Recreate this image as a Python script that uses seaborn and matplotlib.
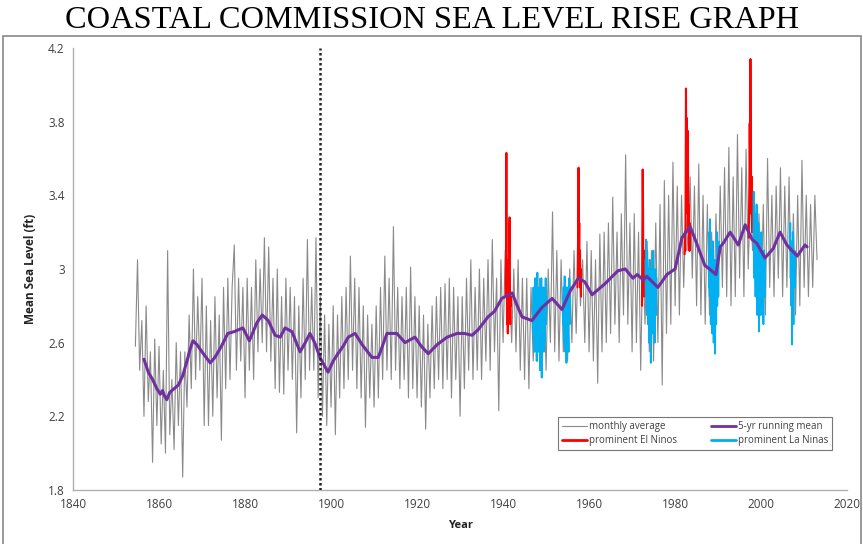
import numpy as np
import pandas as pd
import matplotlib
matplotlib.use('Agg')
import matplotlib.pyplot as plt
from matplotlib.lines import Line2D
from matplotlib.patches import Rectangle
from matplotlib.ticker import FuncFormatter, MultipleLocator, FixedLocator
import seaborn as sns

# monthly average, every half year from 1854.5
gray_start = 1854.5
gray_step = 0.5
gray_vals = [
    2.58, 3.05, 2.45, 2.72, 2.20, 2.80, 2.28, 2.55, 1.95, 2.62, 2.15,
    2.58, 2.05, 2.45, 2.00, 3.10, 2.10, 2.40, 2.02, 2.60, 2.15, 2.55, 1.87, 2.55, 2.25, 2.75, 2.35, 3.00, 2.40, 2.85, 2.45,
    2.95, 2.15, 2.80, 2.15, 2.72, 2.20, 2.85, 2.30, 2.75, 2.07, 2.90, 2.35, 2.95, 2.40, 2.90, 3.13, 2.45, 2.95, 2.50, 2.90,
    2.30, 2.95, 2.45, 2.90, 2.40, 3.05, 2.55, 3.00, 2.60, 3.17, 2.55, 3.12, 2.50, 2.95, 2.35, 3.00, 2.33, 2.85, 2.32, 2.95,
    2.45, 2.90, 2.40, 2.85, 2.11, 2.80, 2.30, 2.95, 2.40, 3.16, 2.45, 2.90, 2.45, 3.17, 2.30, 2.85, 2.20, 2.75, 2.15, 2.70,
    2.25, 2.80, 2.10, 2.75, 2.30, 2.85, 2.35, 2.90, 2.40, 3.07, 2.45, 2.95, 2.35, 2.90, 2.30, 2.80, 2.14, 2.75, 2.30, 2.70,
    2.25, 2.80, 2.30, 2.90, 2.40, 3.07, 2.45, 2.95, 2.40, 3.23, 2.45, 2.90, 2.35, 2.85, 2.40, 2.90, 2.30, 3.01, 2.35, 2.85,
    2.30, 2.80, 2.25, 2.75, 2.13, 2.70, 2.30, 2.80, 2.35, 2.85, 2.40, 2.90, 2.35, 2.92, 2.40, 2.95, 2.30, 2.90, 2.40, 2.85,
    2.20, 2.85, 2.35, 2.95, 2.45, 3.05, 2.40, 2.90, 2.45, 3.00, 2.40, 2.95, 2.50, 3.05, 2.45, 3.16, 2.55, 2.95, 2.23, 3.05,
    2.60, 3.10, 2.75, 2.90, 2.60, 3.00, 2.55, 3.05, 2.45, 2.95, 2.40, 2.95, 2.35, 2.90, 2.50, 2.85, 2.55, 2.95, 2.50, 2.90,
    2.45, 3.00, 2.60, 3.31, 2.55, 3.10, 2.50, 3.05, 2.55, 2.95, 2.50, 3.00, 2.60, 3.10, 2.65, 3.15, 2.80, 3.05, 2.60, 3.15,
    2.55, 3.10, 2.50, 3.05, 2.38, 3.19, 2.55, 3.20, 2.60, 3.25, 2.65, 3.39, 2.70, 3.20, 2.60, 3.30, 2.75, 3.62, 2.70, 3.25,
    2.55, 3.30, 2.60, 3.20, 2.45, 3.10, 2.70, 3.15, 2.55, 3.10, 2.50, 3.25, 2.60, 3.35, 2.37, 3.48, 2.65, 3.40, 2.70, 3.58,
    2.80, 3.45, 2.75, 3.40, 2.90, 3.30, 3.10, 3.50, 2.95, 3.45, 2.80, 3.57, 2.75, 3.40, 2.70, 3.35, 2.75, 3.20, 2.70, 3.30,
    2.90, 3.45, 2.90, 3.55, 2.85, 3.66, 2.80, 3.50, 2.85, 3.73, 2.95, 3.55, 2.85, 3.65, 3.00, 3.40, 3.10, 3.35, 2.85, 3.30,
    2.80, 3.35, 2.75, 3.60, 2.90, 3.40, 2.85, 3.45, 2.95, 3.55, 2.85, 3.45, 2.90, 3.50, 2.80, 3.30, 2.75, 3.40, 2.80, 3.59,
    2.90, 3.40, 2.85, 3.35, 2.90, 3.40, 3.05,
]

# 5-yr running mean (year, value)
mean_years = [
    1856.5, 1857.5, 1858.5, 1859.5, 1860.3, 1860.8, 1861.3, 1861.8, 1862.5, 1863.5,
    1864.5, 1865.5, 1866.5, 1867.3, 1867.9, 1868.8, 1870.0, 1871.9, 1873.0, 1874.5,
    1876.0, 1877.5, 1879.5, 1881.0, 1882.8, 1884.0, 1885.4, 1887.0, 1888.2, 1889.3,
    1890.9, 1892.8, 1894.0, 1895.1, 1896.2, 1897.4, 1899.3, 1900.5, 1901.6, 1902.8,
    1904.0, 1905.6, 1907.2, 1909.5, 1911.0, 1913.0, 1915.3, 1917.2, 1919.5, 1921.0,
    1922.6, 1924.7, 1927.0, 1929.3, 1931.0, 1932.8, 1934.2, 1936.5, 1938.0, 1939.7,
    1942.1, 1943.3, 1944.4, 1946.7, 1949.0, 1951.4, 1953.7, 1955.6, 1957.5, 1959.0,
    1960.7, 1963.7, 1966.7, 1968.4, 1970.2, 1971.2, 1972.6, 1973.4, 1976.0, 1978.1,
    1980.0, 1981.6, 1983.5, 1985.0, 1986.9, 1988.5, 1989.5, 1990.5, 1991.2, 1992.8,
    1994.7, 1996.3, 1997.9, 1999.0, 2000.9, 2002.8, 2004.4, 2006.0, 2008.4, 2010.2,
    2010.7,
]
mean_vals = [
    2.51, 2.44, 2.40, 2.35, 2.32, 2.34, 2.31, 2.29, 2.33, 2.35,
    2.37, 2.42, 2.50, 2.57, 2.61, 2.59, 2.55, 2.49, 2.52, 2.58,
    2.65, 2.66, 2.68, 2.61, 2.71, 2.75, 2.72, 2.64, 2.63, 2.68,
    2.66, 2.55, 2.60, 2.65, 2.60, 2.52, 2.44, 2.50, 2.54, 2.58,
    2.63, 2.65, 2.59, 2.52, 2.52, 2.65, 2.65, 2.60, 2.63, 2.58,
    2.54, 2.59, 2.63, 2.65, 2.65, 2.64, 2.67, 2.74, 2.77, 2.84,
    2.87, 2.80, 2.74, 2.72, 2.79, 2.84, 2.78, 2.88, 2.95, 2.93,
    2.86, 2.92, 2.99, 3.00, 2.95, 2.97, 2.94, 2.96, 2.90, 2.97,
    3.00, 3.17, 3.23, 3.14, 3.02, 2.99, 2.97, 3.12, 3.14, 3.20,
    3.13, 3.24, 3.16, 3.14, 3.06, 3.11, 3.20, 3.13, 3.07, 3.13,
    3.12,
]

# prominent El Ninos / La Ninas: start year and monthly values
elnino_starts = [1940.6, 1957.3, 1972.3, 1982.2, 1997.1]
elnino_vals = [
    [2.85, 3.10, 3.63, 3.00, 2.70, 2.95, 2.65, 3.05, 2.80, 2.95, 3.15, 3.28, 2.90, 2.70, 2.85, 2.80],
    [2.90, 3.05, 3.20, 3.55, 3.10, 3.25, 2.95, 3.10, 2.90, 3.00, 2.85],
    [2.80, 3.20, 3.54, 3.30, 2.90, 3.10, 2.85],
    [3.08, 3.20, 3.10, 3.40, 3.98, 3.50, 3.82, 3.60, 3.30, 3.75, 3.45, 3.20, 3.35, 3.10, 3.25, 3.10],
    [3.17, 3.30, 3.45, 3.79, 3.55, 4.14, 3.70, 3.45, 3.30, 3.50, 3.20, 3.25],
]
lanina_starts = [1946.9, 1953.9, 1973.1, 1987.8, 1998.2, 2006.7]
lanina_vals = [
    [2.80, 2.65, 2.90, 2.60, 2.75, 2.55, 2.85, 2.95, 2.70, 2.60, 2.80, 2.50, 2.75, 2.98, 2.65, 2.55, 2.85, 2.70, 2.60, 2.90,
     2.45, 2.70, 2.80, 2.55, 2.95, 2.41, 2.65, 2.85, 2.60, 2.75, 2.90, 2.55, 2.70, 2.85, 2.60, 2.80, 2.95, 2.70, 2.80, 2.85],
    [2.85, 2.70, 2.90, 2.60, 2.80, 2.96, 2.65, 2.55, 2.85, 2.70, 2.49, 2.75, 2.90, 2.60, 2.80, 2.65, 2.55, 2.85, 2.95, 2.70,
     2.80, 2.90],
    [3.05, 2.85, 3.16, 2.90, 2.75, 3.10, 2.95, 2.70, 3.00, 2.80, 2.60, 2.95, 3.05, 2.75, 2.85, 2.49, 2.80, 3.00, 2.70, 2.90,
     2.65, 2.85, 3.10, 2.80, 2.95, 2.70, 2.60, 2.90, 3.00, 2.85, 2.75, 2.95],
    [3.05, 2.90, 3.20, 2.85, 3.27, 2.95, 2.70, 3.10, 2.80, 3.00, 2.65, 2.90, 3.15, 2.85, 2.60, 2.95, 2.75, 3.05, 2.54, 2.85,
     3.00, 2.70, 2.90, 3.20, 2.80, 2.95, 3.10, 2.85, 3.05, 3.15],
    [3.20, 3.42, 3.10, 2.95, 3.30, 3.05, 2.85, 3.15, 2.90, 3.35, 3.00, 2.75, 3.10, 2.90, 3.25, 2.80, 2.66, 3.00, 3.15, 2.85,
     3.05, 2.75, 3.20, 2.95, 2.80, 3.10, 2.90, 3.00, 2.70, 2.95, 3.10, 2.85, 3.00, 3.05],
    [3.10, 3.25, 2.95, 3.15, 2.80, 3.05, 2.59, 2.90, 3.20, 2.85, 2.70, 3.00, 2.95, 3.10, 2.90, 3.05],
]

y_ticks = [1.8, 2.2, 2.6, 3.0, 3.4, 3.8, 4.2]
divider_year = 1897.5

c_gray = '#8a8a8a'
c_purple = '#7030A0'
c_red = '#FF0000'
c_cyan = '#00B0F0'

sns.set_style('white')
plt.rcParams['font.family'] = ['Open Sans', 'DejaVu Sans']

fig = plt.figure(figsize=(8.63, 5.44), dpi=100)
ax = fig.add_axes([0.0846, 0.0993, 0.897, 0.8125])

# outer chart border like the spreadsheet chart area
fig.patches.append(Rectangle((0.003, -0.01), 0.995, 0.944, transform=fig.transFigure,
                             fill=False, edgecolor='#888888', linewidth=1.2))

gray_df = pd.DataFrame({'year': gray_start + gray_step * np.arange(len(gray_vals)), 'level': gray_vals})
sns.lineplot(data=gray_df, x='year', y='level', ax=ax, color=c_gray, linewidth=0.8, estimator=None)

for start, vals in zip(elnino_starts, elnino_vals):
    seg = pd.DataFrame({'year': start + np.arange(len(vals)) / 12.0, 'level': vals})
    sns.lineplot(data=seg, x='year', y='level', ax=ax, color=c_red, linewidth=1.5, estimator=None)

for start, vals in zip(lanina_starts, lanina_vals):
    seg = pd.DataFrame({'year': start + np.arange(len(vals)) / 12.0, 'level': vals})
    sns.lineplot(data=seg, x='year', y='level', ax=ax, color=c_cyan, linewidth=1.3, estimator=None)

mean_df = pd.DataFrame({'year': mean_years, 'level': mean_vals})
sns.lineplot(data=mean_df, x='year', y='level', ax=ax, color=c_purple, linewidth=2.2, estimator=None)

ax.axvline(divider_year, color='#222222', linestyle=(0, (1, 1)), linewidth=1.8, zorder=5)

ax.set_xlim(1840, 2020)
ax.set_ylim(1.8, 4.2)
ax.xaxis.set_major_locator(MultipleLocator(20))
ax.xaxis.set_minor_locator(MultipleLocator(10))
ax.yaxis.set_major_locator(FixedLocator(y_ticks))
ax.yaxis.set_major_formatter(FuncFormatter(lambda v, p: f'{v:g}'))
ax.tick_params(axis='both', which='both', direction='in', length=3, color='#a0a0a0',
               labelsize=8.5, labelcolor='#404040', pad=6)
ax.tick_params(axis='x', which='minor', length=3)

for side in ['top', 'right']:
    ax.spines[side].set_visible(False)
for side in ['left', 'bottom']:
    ax.spines[side].set_color('#b0b0b0')
    ax.spines[side].set_linewidth(1.0)

ax.set_xlabel('Year', fontsize=8, fontweight='bold', color='#222222', labelpad=6)
ax.set_ylabel('Mean Sea Level (ft)', fontsize=8.5, fontweight='bold', color='#222222', labelpad=8)

handles = [
    Line2D([], [], color=c_gray, linewidth=0.8),
    Line2D([], [], color=c_red, linewidth=2),
    Line2D([], [], color=c_purple, linewidth=2),
    Line2D([], [], color=c_cyan, linewidth=2),
]
labels = ['monthly average', 'prominent El Ninos', '5-yr running mean', 'prominent La Ninas']
leg = ax.legend(handles, labels, ncol=2, loc='lower right', bbox_to_anchor=(0.981, 0.09),
                borderaxespad=0, fontsize=7, frameon=True, fancybox=False, handlelength=2.6,
                handletextpad=0.2, columnspacing=3.5, labelspacing=0.35, borderpad=0.4)
leg.get_frame().set_edgecolor('#555555')
leg.get_frame().set_linewidth(0.8)
for t in leg.get_texts():
    t.set_color('#404040')

fig.text(0.5, 0.962, 'COASTAL COMMISSION SEA LEVEL RISE GRAPH', ha='center', va='center',
         fontsize=23.3, family=['Liberation Serif', 'DejaVu Serif'], color='black')

fig.savefig('out.png', dpi=100)
